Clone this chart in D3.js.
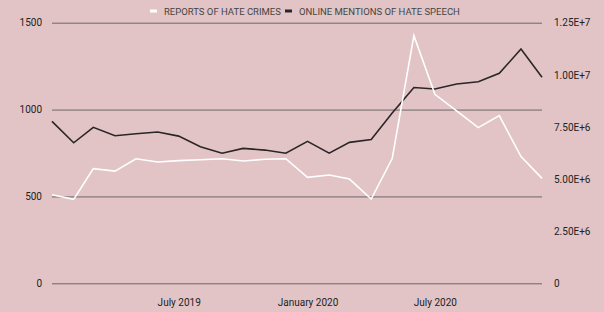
<!DOCTYPE html>
<html>
<head>
<meta charset="utf-8">
<script src="https://cdn.jsdelivr.net/npm/d3@7"></script>
<style>
  html, body { margin: 0; padding: 0; background: #e2c4c6; }
  #chart { width: 604px; height: 312px; }
  .grid line { stroke: #6c6769; stroke-width: 1; }
  .grid .domain { display: none; }
  .ax text { font-family: Roboto, sans-serif; font-size: 10px; fill: #222; }
  .ax .domain, .ax line { display: none; }
  .legend text { font-family: Roboto, sans-serif; font-size: 9.5px; fill: #444; }
</style>
</head>
<body>
<div id="chart"></div>
<script>
/* ── DATA ── */
const months = ['2019-01','2019-02','2019-03','2019-04','2019-05','2019-06','2019-07','2019-08',
                '2019-09','2019-10','2019-11','2019-12','2020-01','2020-02','2020-03','2020-04',
                '2020-05','2020-06','2020-07','2020-08','2020-09','2020-10','2020-11','2020-12'];
const hateCrimes = [510, 483, 660, 646, 717, 698, 706, 711, 717, 704, 714, 717,
                    610, 623, 600, 485, 718, 1425, 1088, 992, 896, 965, 729, 604];
const onlineMentions = [7.77e6, 6.74e6, 7.48e6, 7.08e6, 7.17e6, 7.26e6, 7.06e6, 6.55e6,
                        6.24e6, 6.47e6, 6.39e6, 6.24e6, 6.81e6, 6.24e6, 6.76e6, 6.90e6,
                        8.17e6, 9.39e6, 9.32e6, 9.56e6, 9.67e6, 10.07e6, 11.24e6, 9.88e6];
const leftTicks  = [0, 500, 1000, 1500];
const rightTicks = [0, 2.5e6, 5e6, 7.5e6, 1e7, 1.25e7];
const xTicks     = ['2019-07', '2020-01', '2020-07'];
const seriesNames = ['REPORTS OF HATE CRIMES', 'ONLINE MENTIONS OF HATE SPEECH'];

/* ── LAYOUT ── */
const W = 604, H = 312;
const margin = { top: 22.7, right: 62, bottom: 28.7, left: 52 };
const iW = W - margin.left - margin.right;
const iH = H - margin.top - margin.bottom;

const parse = d3.timeParse('%Y-%m');
const dates = months.map(parse);

const x  = d3.scaleTime().domain(d3.extent(dates)).range([0, iW]);
const yL = d3.scaleLinear().domain([0, 1500]).range([iH, 0]);
const yR = d3.scaleLinear().domain([0, 1.25e7]).range([iH, 0]);

const svg = d3.select('#chart').append('svg').attr('width', W).attr('height', H);
const g = svg.append('g').attr('transform', `translate(${margin.left},${margin.top})`);

// grid
g.append('g').attr('class', 'grid')
  .call(d3.axisLeft(yL).tickValues(leftTicks).tickSize(-iW).tickFormat(''));

// axes
g.append('g').attr('class', 'ax')
  .call(d3.axisLeft(yL).tickValues(leftTicks).tickSize(0).tickPadding(10).tickFormat(d3.format('d')));
g.append('g').attr('class', 'ax').attr('transform', `translate(${iW},0)`)
  .call(d3.axisRight(yR).tickValues(rightTicks).tickSize(0).tickPadding(12)
    .tickFormat(d => d === 0 ? '0' : d.toExponential(2).toUpperCase()));
g.append('g').attr('class', 'ax').attr('transform', `translate(0,${iH})`)
  .call(d3.axisBottom(x).tickValues(xTicks.map(parse)).tickSize(0).tickPadding(16)
    .tickFormat(d3.timeFormat('%B %Y')));

// lines
const lineL = d3.line().x((d, i) => x(dates[i])).y(d => yL(d));
const lineR = d3.line().x((d, i) => x(dates[i])).y(d => yR(d));

g.append('path').datum(onlineMentions).attr('d', lineR)
  .attr('fill', 'none').attr('stroke', '#2a2526').attr('stroke-width', 1.6);
g.append('path').datum(hateCrimes).attr('d', lineL)
  .attr('fill', 'none').attr('stroke', '#ffffff').attr('stroke-width', 1.6);

// legend
const legend = svg.append('g').attr('class', 'legend');
const legendItems = [
  { name: seriesNames[0], color: '#ffffff', x: 150 },
  { name: seriesNames[1], color: '#2a2526', x: 285 }
];
legendItems.forEach(item => {
  legend.append('rect').attr('x', item.x).attr('y', 9.5).attr('width', 7).attr('height', 3)
    .attr('fill', item.color);
  legend.append('text').attr('x', item.x + 14).attr('y', 14.5).text(item.name);
});
</script>
</body>
</html>
